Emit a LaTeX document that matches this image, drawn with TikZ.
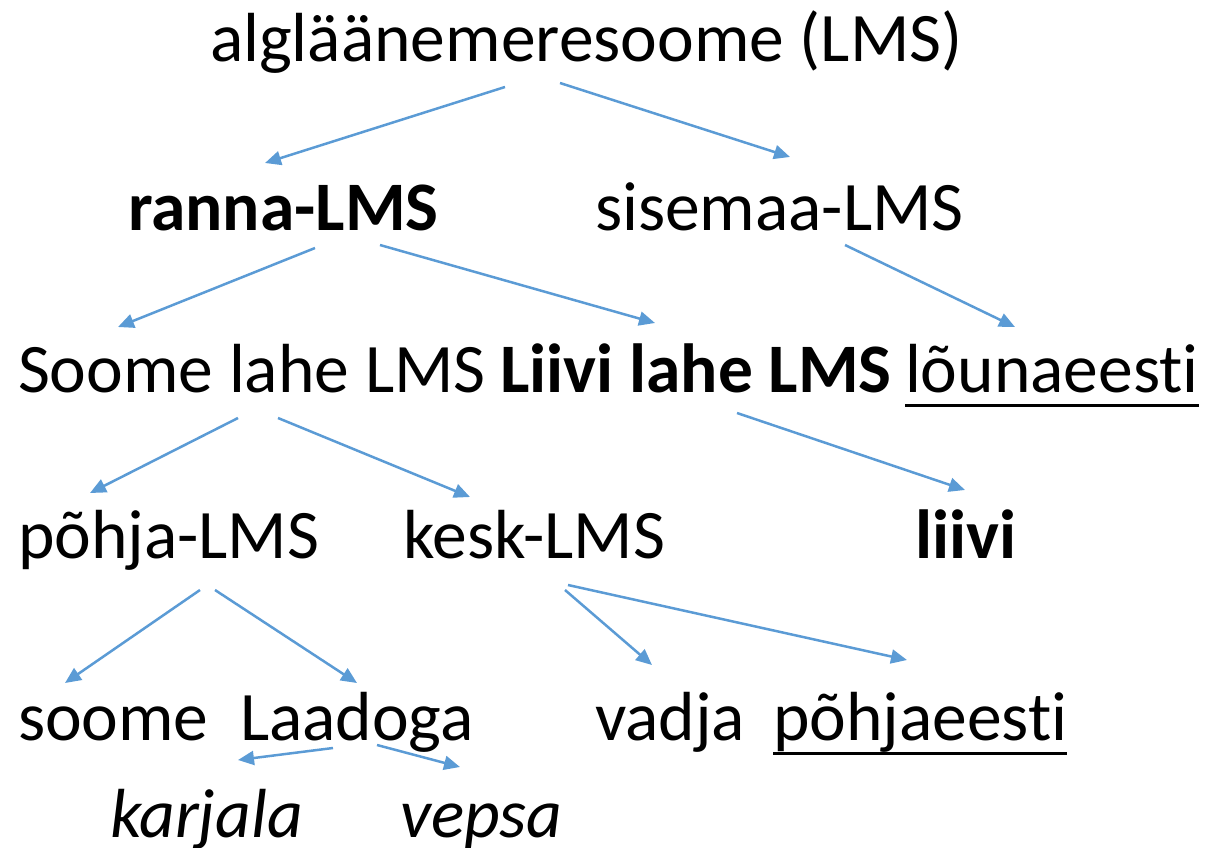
\documentclass[tikz,border=0pt]{standalone}
\usepackage{fontspec}
\setmainfont[Ligatures=NoCommon]{Carlito}
\usetikzlibrary{arrows.meta,calc}
\definecolor{arrblue}{HTML}{5B9BD5}
\begin{document}
\begin{tikzpicture}[x=1pt,y=-1pt,
  lbl/.style={anchor=base west,inner sep=0pt,outer sep=0pt,font=\fontsize{69.5}{80}\selectfont},
  arr/.style={draw=arrblue,line width=2.5pt,-{Triangle[length=16pt,width=14pt]}},
  uline/.style={line width=3pt}]
\useasboundingbox (0,0) rectangle (1205,848);
\node[lbl] (root) at (210,62) {algläänemeresoome (LMS)};
\node[lbl,font=\fontsize{69.5}{80}\selectfont\bfseries] (ranna) at (128,230) {ranna-LMS};
\node[lbl] (sisemaa) at (595,230) {sisemaa-LMS};
\node[lbl] (soomelahe) at (18,392) {Soome lahe LMS};
\node[lbl,font=\fontsize{69.5}{80}\selectfont\bfseries] (liivilahe) at (500,392) {Liivi lahe LMS};
\node[lbl] (louna) at (905,392) {lõunaeesti};
\node[lbl] (pohja) at (18,558) {põhja-LMS};
\node[lbl] (kesk) at (403,558) {kesk-LMS};
\node[lbl,font=\fontsize{69.5}{80}\selectfont\bfseries] (liivi) at (915,558) {liivi};
\node[lbl] (soome) at (18,740) {soome};
\node[lbl] (laadoga) at (240,740) {Laadoga};
\node[lbl] (vadja) at (595,740) {vadja};
\node[lbl] (pohjaeesti) at (773,740) {põhjaeesti};
\node[lbl,font=\fontsize{69.5}{80}\selectfont\itshape] (karjala) at (110,837) {karjala};
\node[lbl,font=\fontsize{69.5}{80}\selectfont\itshape] (vepsa) at (400,837) {vepsa};
% underlines
\draw[uline] ($(louna.base west)+(0,13)$) -- ($(louna.base east)+(0,13)$);
\draw[uline] ($(pohjaeesti.base west)+(0,13)$) -- ($(pohjaeesti.base east)+(0,13)$);
% arrows
\draw[arr] ($(root.base west)+(295,25)$) -- ($(ranna.base west)+(137,-67)$);
\draw[arr] ($(root.base west)+(350,21)$) -- ($(sisemaa.base west)+(195,-73)$);
\draw[arr] ($(ranna.base west)+(187,18)$) -- ($(soomelahe.base west)+(100,-65)$);
\draw[arr] ($(ranna.base west)+(252,15)$) -- ($(liivilahe.base west)+(155,-69)$);
\draw[arr] ($(sisemaa.base west)+(250,15)$) -- ($(louna.base west)+(110,-65)$);
\draw[arr] ($(soomelahe.base west)+(220,26)$) -- ($(pohja.base west)+(72,-65)$);
\draw[arr] ($(soomelahe.base west)+(260,26)$) -- ($(kesk.base west)+(67,-61)$);
\draw[arr] ($(liivilahe.base west)+(237,21)$) -- ($(liivi.base west)+(50,-68)$);
\draw[arr] ($(pohja.base west)+(182,32)$) -- ($(soome.base west)+(47,-57)$);
\draw[arr] ($(pohja.base west)+(197,32)$) -- ($(laadoga.base west)+(117,-57)$);
\draw[arr] ($(kesk.base west)+(162,32)$) -- ($(vadja.base west)+(57,-75)$);
\draw[arr] ($(kesk.base west)+(165,27)$) -- ($(pohjaeesti.base west)+(134,-80)$);
\draw[arr] ($(laadoga.base west)+(93,8)$) -- ($(karjala.base west)+(128,-77)$);
\draw[arr] ($(laadoga.base west)+(137,5)$) -- ($(vepsa.base west)+(60,-70)$);
\end{tikzpicture}
\end{document}
